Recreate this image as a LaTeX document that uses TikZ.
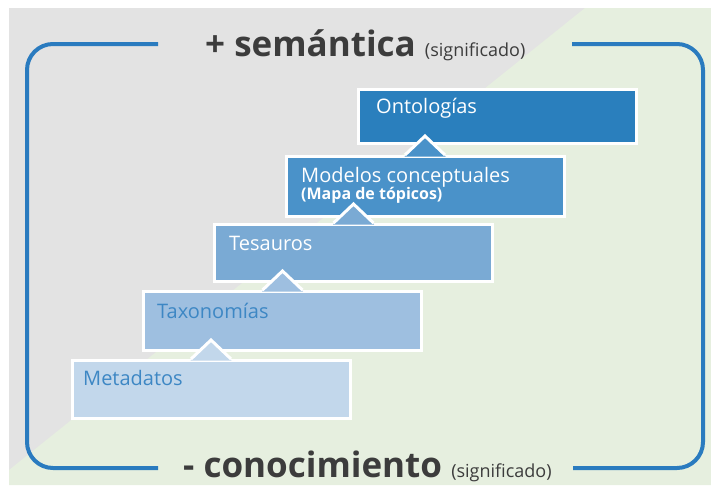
\documentclass[tikz,border=0pt]{standalone}
\usepackage{fontspec}
\setmainfont{Open Sans}
\usetikzlibrary{calc}
\definecolor{bggray}{HTML}{E3E3E3}
\definecolor{bggreen}{HTML}{E6EFDF}
\definecolor{frameblue}{HTML}{2A7BBF}
\definecolor{headgray}{HTML}{3C3C3C}
\definecolor{cOnto}{HTML}{2A7FBD}
\definecolor{cMod}{HTML}{4A92C9}
\definecolor{cTes}{HTML}{7AAAD4}
\definecolor{cTax}{HTML}{9EBFE0}
\definecolor{cMeta}{HTML}{C2D7EB}
\definecolor{txtblue}{HTML}{3D87C4}
\begin{document}
\begin{tikzpicture}[x=1pt,y=-1pt,
  stepbox/.style={rectangle, draw=white, line width=3pt, minimum width=278pt, minimum height=57pt, inner sep=0pt},
  boxtext/.style={anchor=base west, inner sep=0pt, font=\fontsize{20}{22}\selectfont},
  subtext/.style={anchor=base west, inner sep=0pt, font=\fontsize{16}{17}\selectfont\bfseries},
  headtext/.style={anchor=base west, inner sep=0pt, text=headgray},
  frameline/.style={draw=frameblue, line width=4pt, rounded corners=26pt}]
\useasboundingbox (0,0) rectangle (711,485);
% background
\fill[bggray] (9,8) rectangle (711,485);
\fill[bggreen] (585,8) -- (711,8) -- (711,485) -- (9,485) -- (9,470) -- cycle;
% frame
\coordinate (tl) at (158,44);
\coordinate (tr) at (572,44);
\coordinate (bl) at (158,468);
\coordinate (br) at (573,468);
\draw[frameline] (tl) -- (27,44) -- (27,468) -- (bl);
\draw[frameline] (tr) -- (703,44) -- (703,468) -- (br);
% headings
\node[headtext] (sem) at (205,56) {\fontsize{35}{38}\selectfont\bfseries + semántica \fontsize{18}{19}\selectfont\mdseries(significado)};
\node[headtext] (con) at (183,477) {\fontsize{35}{38}\selectfont\bfseries - conocimiento \fontsize{18}{19}\selectfont\mdseries(significado)};
% boxes
\node[stepbox, fill=cOnto, minimum height=54pt] (onto) at (497,116.5) {};
\node[stepbox, fill=cMod, minimum height=60pt] (mod) at (425,186.5) {};
\node[stepbox, fill=cTes] (tes) at (353.5,253) {};
\node[stepbox, fill=cTax, minimum height=59pt] (tax) at (282.5,321) {};
\node[stepbox, fill=cMeta, minimum height=58pt] (meta) at (211,389.5) {};
% pointers
\foreach \b/\c in {mod/cMod, tes/cTes, tax/cTax, meta/cMeta}{
  \fill[\c] ($(\b.north)+(-20.5,1.5)$) -- ($(\b.north)+(0,-19)$) -- ($(\b.north)+(20.5,1.5)$) -- cycle;
  \draw[white, line width=3pt, line join=miter] ($(\b.north)+(-20,0)$) -- ($(\b.north)+(0,-19)$) -- ($(\b.north)+(20,0)$);
}
% texts
\node[boxtext, text=white] (tonto) at (376,113) {Ontologías};
\node[boxtext, text=white] (tmod) at (301,182) {Modelos conceptuales};
\node[subtext, text=white] (tmap) at (301,199) {(Mapa de tópicos)};
\node[boxtext, text=white] (ttes) at (229,250) {Tesauros};
\node[boxtext, text=txtblue] (ttax) at (157,318) {Taxonomías};
\node[boxtext, text=txtblue] (tmeta) at (83,385) {Metadatos};
\end{tikzpicture}
\end{document}
